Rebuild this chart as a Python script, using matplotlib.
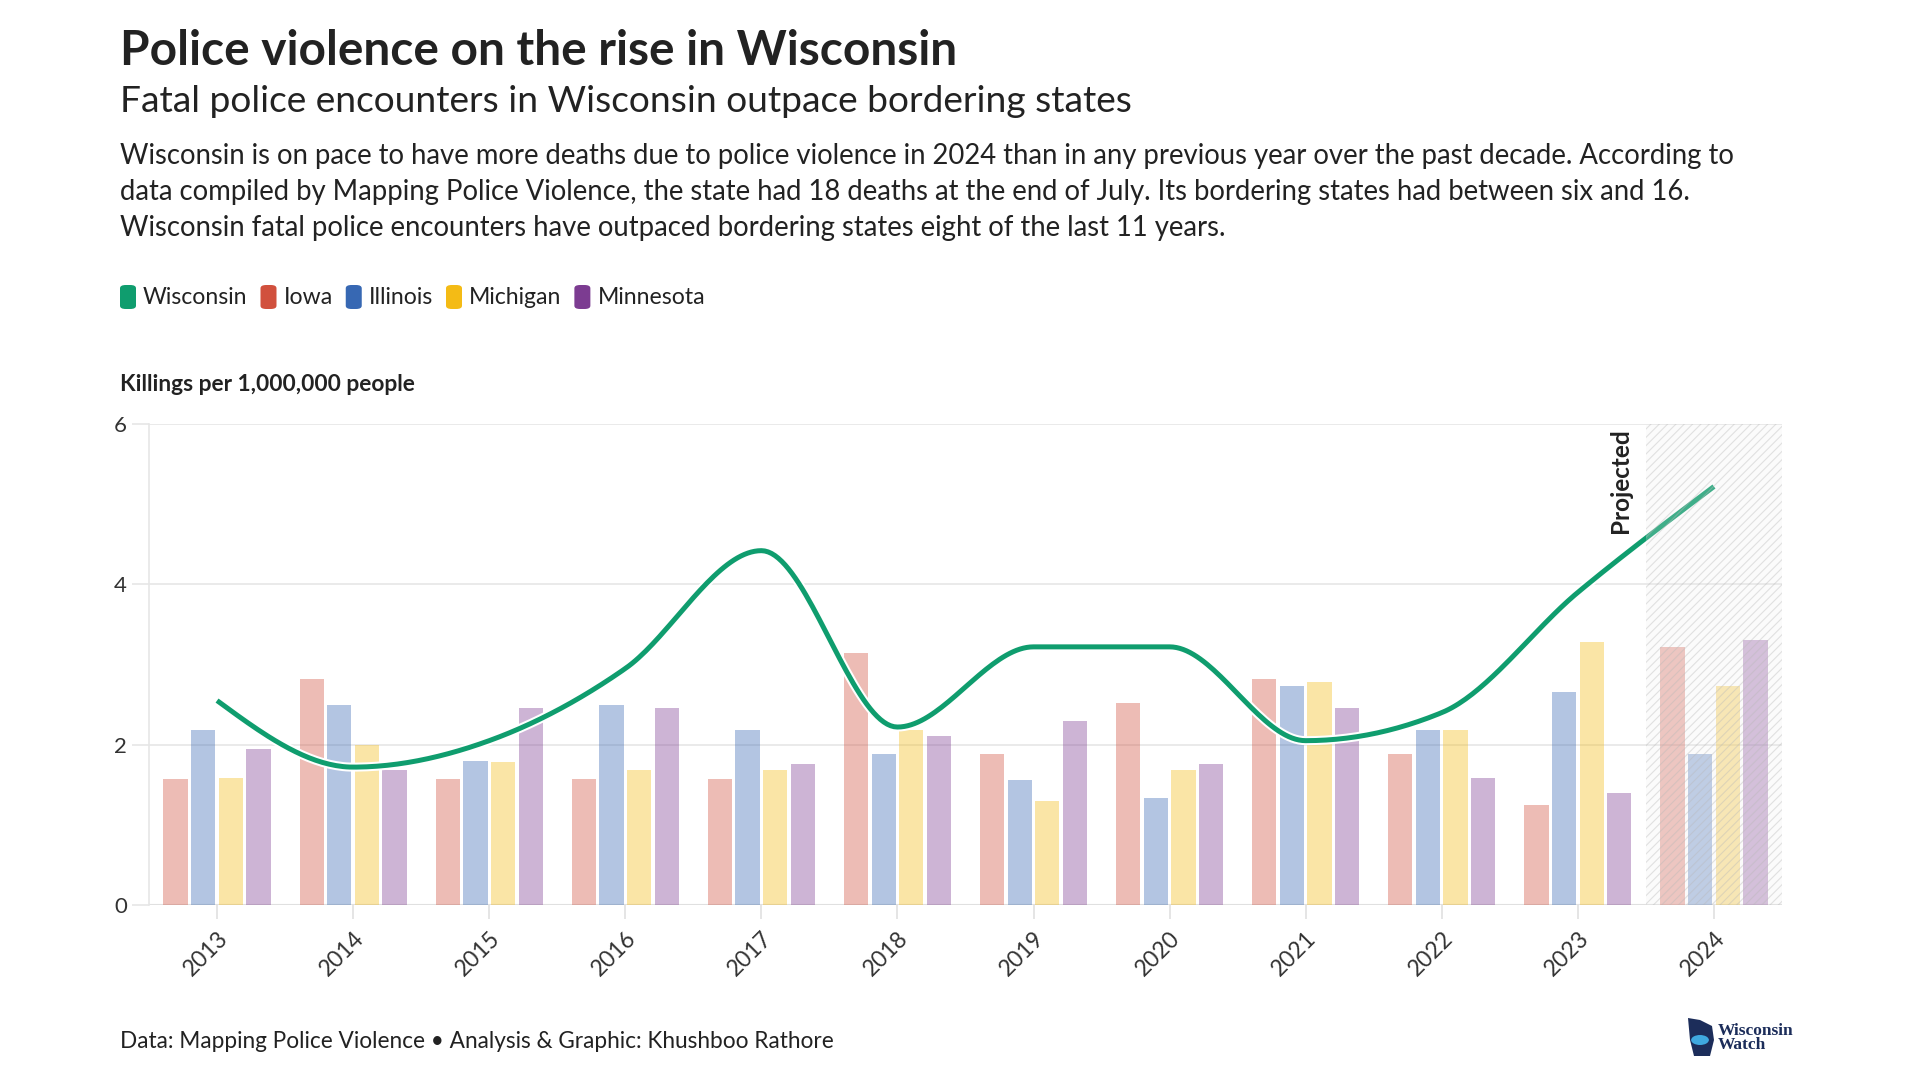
import numpy as np
import matplotlib
matplotlib.use("Agg")
import matplotlib.pyplot as plt
import matplotlib.patheffects as pe
from matplotlib.patches import FancyBboxPatch, Polygon

plt.rcParams['font.family'] = ['Lato', 'DejaVu Sans']
plt.rcParams['hatch.linewidth'] = 0.8

# ---- data ----
years = ['2013', '2014', '2015', '2016', '2017', '2018', '2019', '2020', '2021', '2022', '2023', '2024']
wisconsin = [2.55, 1.72, 2.05, 2.95, 4.42, 2.22, 3.22, 3.22, 2.05, 2.40, 3.90, 5.22]
iowa = [1.57, 2.82, 1.57, 1.57, 1.57, 3.14, 1.88, 2.52, 2.82, 1.88, 1.25, 3.22]
illinois = [2.18, 2.50, 1.80, 2.50, 2.18, 1.88, 1.56, 1.33, 2.73, 2.18, 2.66, 1.88]
michigan = [1.59, 2.00, 1.79, 1.69, 1.69, 2.18, 1.30, 1.69, 2.78, 2.18, 3.28, 2.73]
minnesota = [1.94, 1.69, 2.46, 2.46, 1.76, 2.11, 2.29, 1.76, 2.46, 1.59, 1.40, 3.31]

states = ['Wisconsin', 'Iowa', 'Illinois', 'Michigan', 'Minnesota']
colors = {'Wisconsin': '#0f9d6e', 'Iowa': '#d1503d', 'Illinois': '#3768b3',
          'Michigan': '#f4bb15', 'Minnesota': '#7c3c91'}
bar_series = [('Iowa', iowa), ('Illinois', illinois), ('Michigan', michigan), ('Minnesota', minnesota)]

W, H = 1920, 1080
fig = plt.figure(figsize=(19.2, 10.8), dpi=100)


def fx(px):
    return px / W


def fy(py):
    return 1 - py / H


# ---- header text ----
fig.text(fx(120), fy(51), 'Police violence on the rise in Wisconsin', fontsize=34.4, fontweight='bold',
         color='#222222', va='center', ha='left')
fig.text(fx(120), fy(102), 'Fatal police encounters in Wisconsin outpace bordering states', fontsize=26.7,
         color='#222222', va='center', ha='left')
desc = ['Wisconsin is on pace to have more deaths due to police violence in 2024 than in any previous year over the past decade. According to',
        'data compiled by Mapping Police Violence, the state had 18 deaths at the end of July. Its bordering states had between six and 16.',
        'Wisconsin fatal police encounters have outpaced bordering states eight of the last 11 years.']
for i, line in enumerate(desc):
    fig.text(fx(120), fy(156 + i * 36), line, fontsize=19.8, color='#222222', va='center', ha='left')

# ---- legend ----
renderer = fig.canvas.get_renderer()
lx = 120
for s in states:
    sw = FancyBboxPatch((fx(lx), fy(309)), fx(16), 24 / H, boxstyle='round,pad=0,rounding_size=0.003',
                        transform=fig.transFigure, facecolor=colors[s], edgecolor='none')
    fig.patches.append(sw)
    t = fig.text(fx(lx + 23), fy(297), s, fontsize=16.6, color='#222222', va='center', ha='left')
    bb = t.get_window_extent(renderer)
    lx = lx + 23 + bb.width + 13

fig.text(fx(120), fy(385), 'Killings per 1,000,000 people', fontsize=16.4, fontweight='bold',
         color='#222222', va='center', ha='left')

# ---- chart ----
ax = fig.add_axes([fx(149), fy(905), fx(1782) - fx(149), (905 - 424) / H])
x = np.arange(len(years))
bw = 0.178
step = 0.203
for k, (name, vals) in enumerate(bar_series):
    ax.bar(x + (k - 1.5) * step, vals, width=bw, color=colors[name], alpha=0.38, zorder=2, linewidth=0)


# monotone cubic (d3 curveMonotoneX) for the Wisconsin line
def monotone_curve(xs, ys, n=40):
    xs = np.asarray(xs, float)
    ys = np.asarray(ys, float)
    m = len(xs)
    h = np.diff(xs)
    s = np.diff(ys) / h
    t = np.zeros(m)
    for i in range(1, m - 1):
        p = (s[i - 1] * h[i] + s[i] * h[i - 1]) / (h[i - 1] + h[i])
        t[i] = (np.sign(s[i - 1]) + np.sign(s[i])) * min(abs(s[i - 1]), abs(s[i]), 0.5 * abs(p))
    t[0] = (3 * s[0] - t[1]) / 2
    t[-1] = (3 * s[-1] - t[-2]) / 2
    out_x, out_y = [], []
    for i in range(m - 1):
        u = np.linspace(0, 1, n, endpoint=(i == m - 2))
        h00 = 2 * u ** 3 - 3 * u ** 2 + 1
        h10 = u ** 3 - 2 * u ** 2 + u
        h01 = -2 * u ** 3 + 3 * u ** 2
        h11 = u ** 3 - u ** 2
        out_x.append(xs[i] + u * h[i])
        out_y.append(h00 * ys[i] + h10 * h[i] * t[i] + h01 * ys[i + 1] + h11 * h[i] * t[i + 1])
    return np.concatenate(out_x), np.concatenate(out_y)


cx, cy = monotone_curve(x, wisconsin)
ax.plot(cx, cy, color=colors['Wisconsin'], linewidth=3.6, zorder=4, solid_capstyle='butt',
        path_effects=[pe.Stroke(linewidth=6.5, foreground='white'), pe.Normal()])

# projected band, laid over bars and line
ax.axvspan(10.5, 11.5, facecolor=(0.93, 0.93, 0.93, 0.22), edgecolor=(0.72, 0.72, 0.72, 0.4),
           hatch='////', linewidth=0, zorder=5)

ax.text(10.4, 5.95, 'Projected', rotation=90, ha='right', va='top', fontsize=17.5, fontweight='bold',
        color='#222222', zorder=6)

ax.set_xlim(-0.5, 11.5)
ax.set_ylim(0, 6)
ax.set_yticks([0, 2, 4, 6])
ax.set_xticks(x)
ax.set_xticklabels(years, rotation=45, ha='right', rotation_mode='anchor')
ax.grid(axis='y', color='#e6e6e6', linewidth=1.2, zorder=1)
ax.set_axisbelow(True)
for sp in ['top', 'right', 'bottom']:
    ax.spines[sp].set_visible(False)
ax.spines['left'].set_color('#e6e6e6')
ax.spines['left'].set_linewidth(1.2)
ax.axhline(0, color='#e0e0e0', linewidth=1.5, zorder=1)
ax.tick_params(axis='y', length=12, color='#e6e6e6', width=1.2, labelsize=16, labelcolor='#333333', pad=4)
ax.tick_params(axis='x', length=10, color='#e0e0e0', width=1.2, labelsize=16.5, labelcolor='#333333', pad=6)

# ---- footer ----
fig.text(fx(120), fy(1041), 'Data: Mapping Police Violence \u2022 Analysis & Graphic: Khushboo Rathore', fontsize=16.3,
         color='#222222', va='center', ha='left')

# simple logo
logo = Polygon([[fx(1688), fy(1018)], [fx(1700), fy(1020)], [fx(1712), fy(1026)], [fx(1714), fy(1040)],
                [fx(1710), fy(1056)], [fx(1694), fy(1056)], [fx(1690), fy(1040)]],
               closed=True, transform=fig.transFigure, facecolor='#1c2d5a', edgecolor='none')
fig.patches.append(logo)
fig.patches.append(matplotlib.patches.Circle((fx(1700), fy(1040)), 5 / H, transform=fig.transFigure,
                                             facecolor='#3fa9e0', edgecolor='none'))
fig.text(fx(1718), fy(1038), 'Wisconsin\nWatch', fontsize=12.5, family='Liberation Serif', fontweight='bold',
         color='#1c2d5a', va='center', ha='left', linespacing=0.8)

fig.savefig('out.png', dpi=100, facecolor='white')
